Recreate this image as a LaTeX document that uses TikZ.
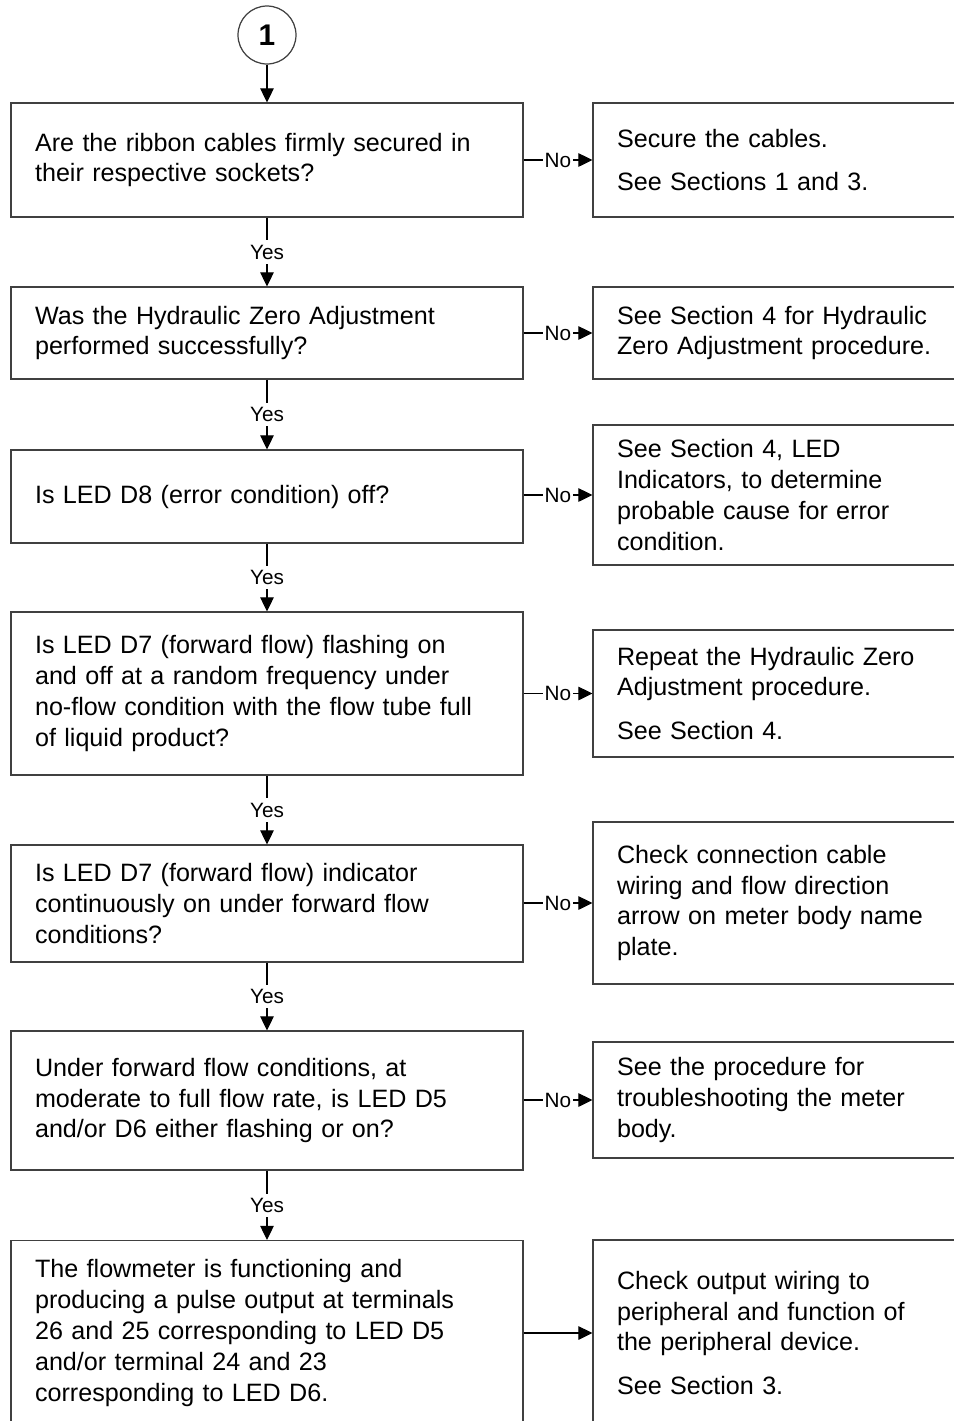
\documentclass[tikz,border=0pt]{standalone}
\usepackage{fontspec}
\setmainfont{Liberation Sans}
\usetikzlibrary{arrows.meta,positioning}

\newcommand{\pgap}{\\[0.26cm]}

\begin{document}
\begin{tikzpicture}[
    x=0.02cm, y=-0.02cm,
    qbox/.style={draw=black!75, line width=0.7pt, rectangle, minimum width=10.24cm, text width=9.28cm, inner xsep=0.48cm, align=left, font=\fontsize{14.3}{17.6}\selectfont},
    abox/.style={draw=black!75, line width=0.7pt, rectangle, minimum width=8cm, text width=7.04cm, inner xsep=0.48cm, align=left, font=\fontsize{14.3}{17.6}\selectfont},
    conn/.style={draw=black!75, line width=0.7pt, circle, minimum size=1.16cm, inner sep=0pt, font=\fontsize{17}{20}\selectfont\bfseries},
    arr/.style={-{Triangle[length=0.28cm, width=0.27cm]}, line width=0.6pt},
    lbl/.style={font=\fontsize{11.8}{13}\selectfont, fill=white, inner xsep=1pt, inner ysep=2.5pt}
]
\clip (0,0) rectangle (954,1421);

\node[conn] (start) at (267,35) {1};

% questions
\node[qbox, minimum height=2.28cm] (q1) at (267,160) {Are the ribbon cables firmly secured in\\their respective sockets?};
\node[qbox, minimum height=1.84cm] (q2) at (267,333) {Was the Hydraulic Zero Adjustment\\performed successfully?};
\node[qbox, minimum height=1.86cm] (q3) at (267,496.5) {Is LED D8 (error condition) off?};
\node[qbox, minimum height=3.26cm] (q4) at (267,693.5) {Is LED D7 (forward flow) flashing on\\and off at a random frequency under\\no-flow condition with the flow tube full\\of liquid product?};
\node[qbox, minimum height=2.34cm] (q5) at (267,903.5) {Is LED D7 (forward flow) indicator\\continuously on under forward flow\\conditions?};
\node[qbox, minimum height=2.78cm] (q6) at (267,1100.5) {Under forward flow conditions, at\\moderate to full flow rate, is LED D5\\and/or D6 either flashing or on?};
\node[qbox, minimum height=3.7cm] (q7) at (267,1333) {The flowmeter is functioning and\\producing a pulse output at terminals\\26 and 25 corresponding to LED D5\\and/or terminal 24 and 23\\corresponding to LED D6.};

% actions
\node[abox, minimum height=2.28cm] (a1) at (793,160) {Secure the cables.\pgap See Sections 1 and 3.};
\node[abox, minimum height=1.84cm] (a2) at (793,333) {See Section 4 for Hydraulic\\Zero Adjustment procedure.};
\node[abox, minimum height=2.8cm] (a3) at (793,495) {See Section 4, LED\\Indicators, to determine\\probable cause for error\\condition.};
\node[abox, minimum height=2.54cm] (a4) at (793,693.5) {Repeat the Hydraulic Zero\\Adjustment procedure.\pgap See Section 4.};
\node[abox, minimum height=3.24cm] (a5) at (793,903) {Check connection cable\\wiring and flow direction\\arrow on meter body name\\plate.};
\node[abox, minimum height=2.32cm] (a6) at (793,1100) {See the procedure for\\troubleshooting the meter\\body.};
\node[abox, minimum height=3.72cm] (a7) at (793,1333) {Check output wiring to\\peripheral and function of\\the peripheral device.\pgap See Section 3.};

\draw[arr] (start) -- (q1);
\draw[arr] (q1) -- node[lbl] {Yes} (q2);
\draw[arr] (q2) -- node[lbl] {Yes} (q3);
\draw[arr] (q3) -- node[lbl] {Yes} (q4);
\draw[arr] (q4) -- node[lbl] {Yes} (q5);
\draw[arr] (q5) -- node[lbl] {Yes} (q6);
\draw[arr] (q6) -- node[lbl] {Yes} (q7);

\draw[arr] (q1.east) -- node[lbl] {No} (q1.east -| a1.west);
\draw[arr] (q2.east) -- node[lbl] {No} (q2.east -| a2.west);
\draw[arr] (a3.west -| q3.east) -- node[lbl] {No} (a3.west);
\draw[arr] (q4.east) -- node[lbl] {No} (q4.east -| a4.west);
\draw[arr] (a5.west -| q5.east) -- node[lbl] {No} (a5.west);
\draw[arr] (a6.west -| q6.east) -- node[lbl] {No} (a6.west);
\draw[arr] (q7.east) -- (q7.east -| a7.west);
\end{tikzpicture}
\end{document}
